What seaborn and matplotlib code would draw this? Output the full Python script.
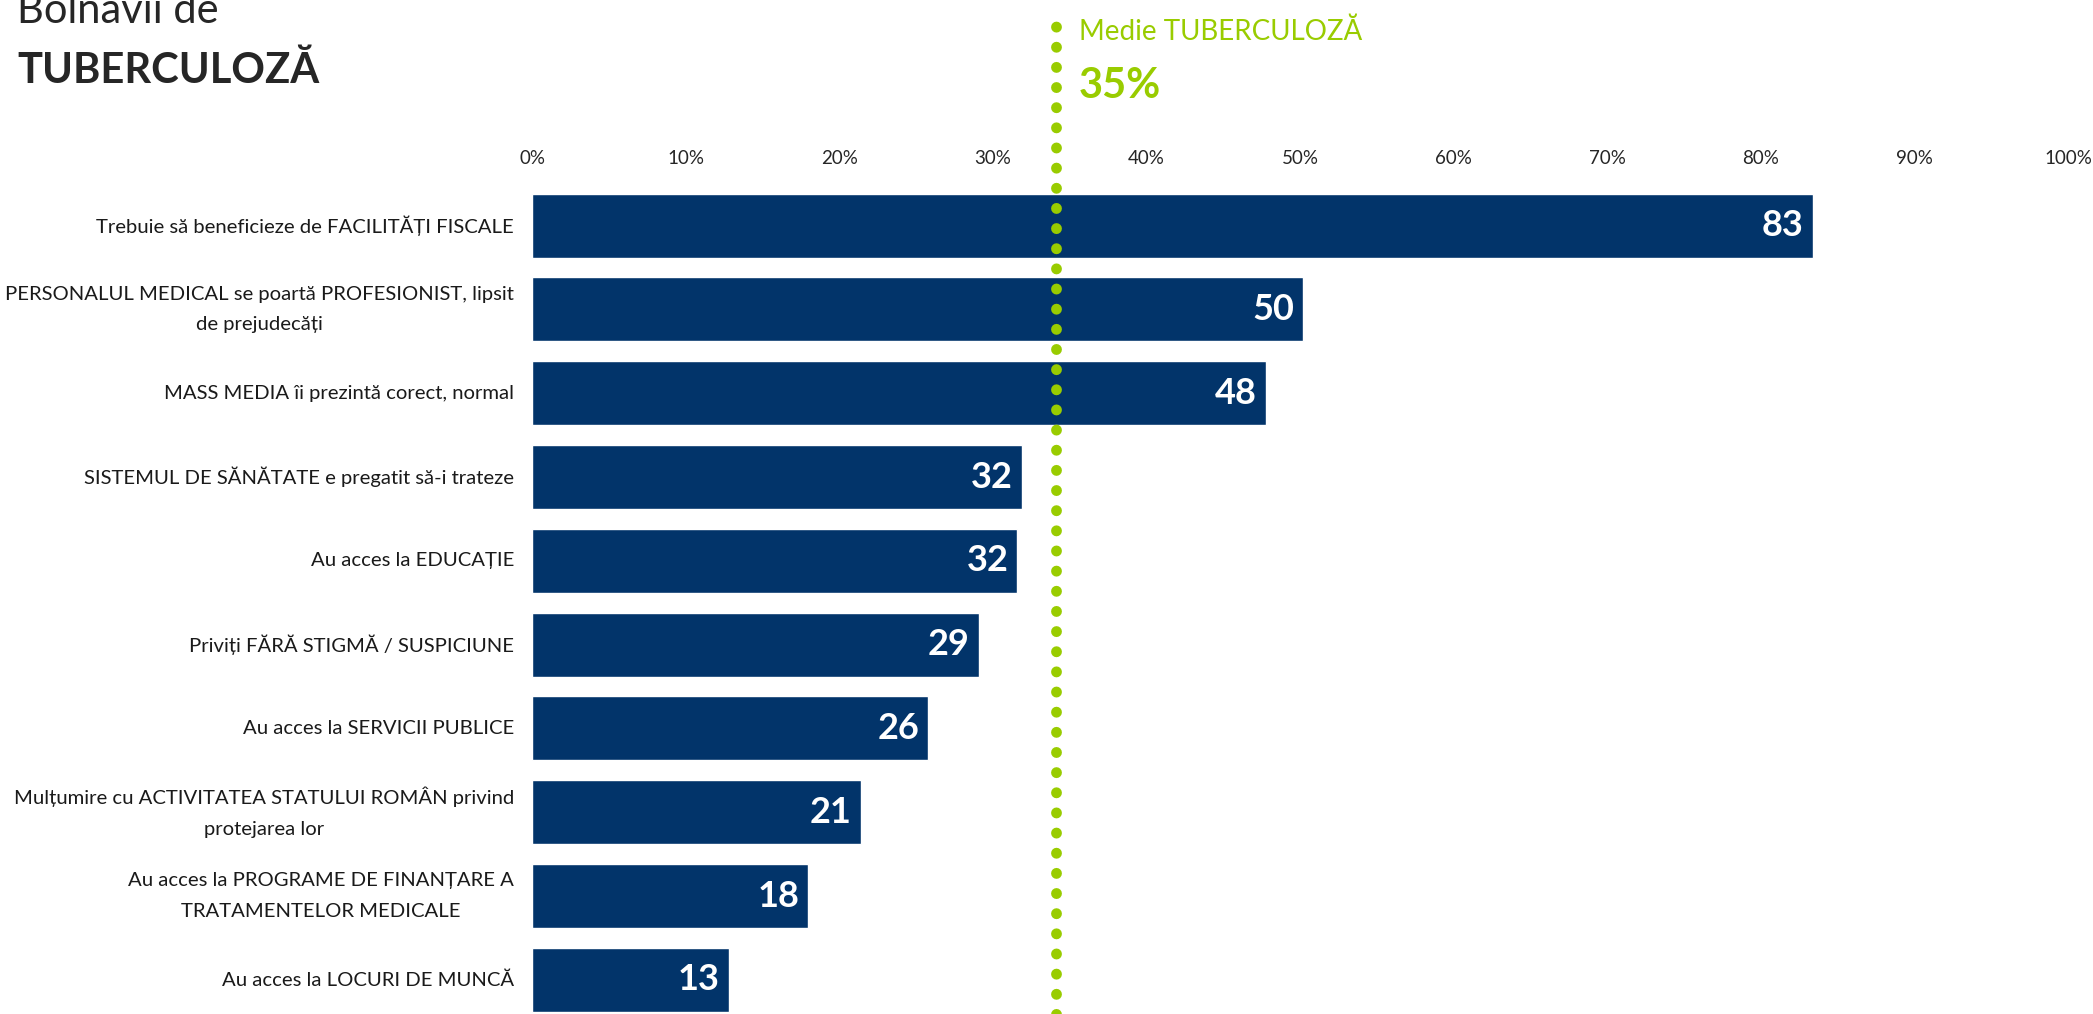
import matplotlib
matplotlib.use("Agg")
import pandas as pd
import seaborn as sns
import matplotlib.pyplot as plt

# Data
labels = [
    "Trebuie să beneficieze de FACILITĂȚI FISCALE",
    "PERSONALUL MEDICAL se poartă PROFESIONIST, lipsit\nde prejudecăți",
    "MASS MEDIA îi prezintă corect, normal",
    "SISTEMUL DE SĂNĂTATE e pregatit să-i trateze",
    "Au acces la EDUCAȚIE",
    "Priviți FĂRĂ STIGMĂ / SUSPICIUNE",
    "Au acces la SERVICII PUBLICE",
    "Mulțumire cu ACTIVITATEA STATULUI ROMÂN privind\nprotejarea lor",
    "Au acces la PROGRAME DE FINANȚARE A\nTRATAMENTELOR MEDICALE",
    "Au acces la LOCURI DE MUNCĂ",
]
values = [83.4, 50.2, 47.8, 31.9, 31.6, 29.1, 25.8, 21.4, 18.0, 12.8]
avg_line = 34.1
avg_label = "35%"
xticks = [0, 10, 20, 30, 40, 50, 60, 70, 80, 90, 100]

navy = "#02346A"
green = "#99CC00"

df = pd.DataFrame({"label": labels, "value": values})

sns.set_style("white")
plt.rcParams["font.family"] = ["Lato", "DejaVu Sans"]

fig = plt.figure(figsize=(20.93, 10.14), dpi=100)
ax = fig.add_axes([532 / 2093, 0, (2068 - 532) / 2093, 839 / 1014])

sns.barplot(data=df, x="value", y="label", orient="h", color=navy,
            width=0.765, saturation=1, ax=ax)

ax.set_xlim(0, 100)
ax.set_ylim(9.408, -0.604)
ax.set_xlabel("")
ax.set_ylabel("")
for s in ax.spines.values():
    s.set_visible(False)

ax.xaxis.tick_top()
ax.set_xticks(xticks)
ax.set_xticklabels([f"{t}%" for t in xticks])
ax.tick_params(axis="x", length=0, pad=6, labelsize=13.5)
ax.tick_params(axis="y", length=0, labelleft=False)

# category labels (drawn by hand so multi-line spacing sticks)
for i, lab in enumerate(labels):
    ax.annotate(lab, xy=(0, i), xycoords=("axes fraction", "data"),
                xytext=(-13, 0), textcoords="offset points",
                ha="right", va="center", multialignment="center",
                linespacing=1.95, fontsize=14.6, color="#1a1a1a")

# value labels
for i, v in enumerate(values):
    ax.annotate(f"{v:.0f}", xy=(v, i), xytext=(-6.5, 0), textcoords="offset points",
                ha="right", va="center", color="white", fontsize=26, fontweight="bold")

# average dotted line
ax.axvline(avg_line, ymin=0, ymax=1 + 158 / 839, color=green, lw=7.8,
           linestyle=(0, (0.01, 1.85)), dash_capstyle="round", clip_on=False,
           zorder=5)

fig.text(1079 / 2093, 1 - 40 / 1014, "Medie TUBERCULOZĂ", color=green,
         fontsize=20, va="baseline", ha="left")
fig.text(1079 / 2093, 1 - 98 / 1014, avg_label, color=green,
         fontsize=30, fontweight="bold", va="baseline", ha="left")

# title
fig.text(17 / 2093, 1 - 23 / 1014, "Bolnavii de", fontsize=30,
         va="baseline", ha="left")
fig.text(17 / 2093, 1 - 83 / 1014, "TUBERCULOZĂ", fontsize=30,
         fontweight="bold", va="baseline", ha="left")

plt.savefig("out.png", dpi=100)
